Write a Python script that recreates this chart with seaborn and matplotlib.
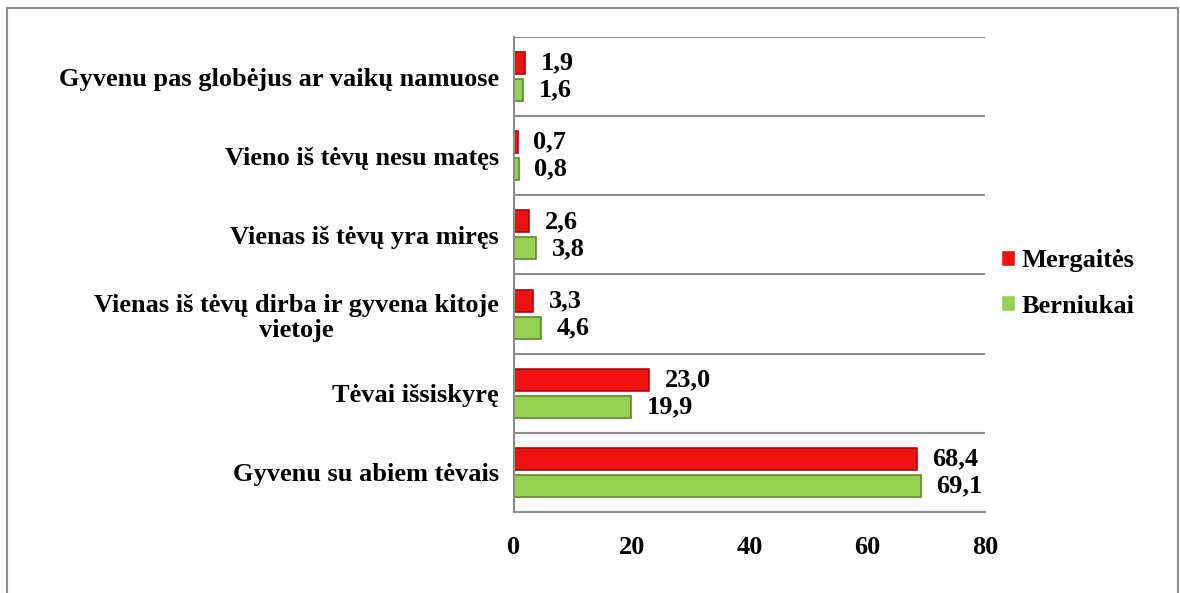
"""
Horizontal bar chart: family situation of girls and boys (%)
"""

import numpy as np
import pandas as pd
import matplotlib
matplotlib.use("Agg")
import matplotlib.pyplot as plt
from matplotlib.patches import Rectangle
import seaborn as sns

# Data (top to bottom as shown on the chart)
categories = [
    "Gyvenu pas globėjus ar vaikų namuose",
    "Vieno iš tėvų nesu matęs",
    "Vienas iš tėvų yra miręs",
    "Vienas iš tėvų dirba ir gyvena kitoje\nvietoje",
    "Tėvai išsiskyrę",
    "Gyvenu su abiem tėvais",
]
mergaites = [1.9, 0.7, 2.6, 3.3, 23.0, 68.4]
berniukai = [1.6, 0.8, 3.8, 4.6, 19.9, 69.1]
series_names = ["Mergaitės", "Berniukai"]
x_ticks = [0, 20, 40, 60, 80]

RED = "#f01212"
GREEN = "#94d052"
EDGES = {"Mergaitės": "#a80c0c", "Berniukai": "#5f8a2c"}
GRID = "#8c8c8c"
FS = 19

sns.set_style("white")
plt.rcParams['font.family'] = ['Liberation Serif', 'DejaVu Serif']
plt.rcParams['font.weight'] = 'bold'
plt.rcParams['text.color'] = 'black'
plt.rcParams['xtick.labelcolor'] = 'black'
plt.rcParams['ytick.labelcolor'] = 'black'


def build_frame():
    """Long format table for seaborn"""
    df = pd.DataFrame({
        "kategorija": categories * 2,
        "reiksme": mergaites + berniukai,
        "lytis": [series_names[0]] * len(categories) + [series_names[1]] * len(categories),
    })
    return df


def plot_chart(df):
    fig = plt.figure(figsize=(11.8, 5.93), dpi=100)
    ax = fig.add_axes([0.4356, 0.1366, 0.399, 0.801])

    sns.barplot(data=df, y="kategorija", x="reiksme", hue="lytis",
                hue_order=series_names, order=categories,
                palette=[RED, GREEN], saturation=1, width=0.68, gap=0.18,
                orient="h", ax=ax, legend=True)

    # bar edges and value labels
    for container, name in zip(ax.containers, series_names):
        for bar in container:
            bar.set_edgecolor(EDGES[name])
            bar.set_linewidth(1.2)
        vals = mergaites if name == series_names[0] else berniukai
        ax.bar_label(container, labels=[f"{v:.1f}".replace(".", ",") for v in vals],
                     padding=11, fontsize=FS, fontweight='bold', color='black')

    ax.set_xlim(0, 80)
    ax.set_ylim(5.5, -0.5)
    ax.set_xticks(x_ticks)
    ax.set_xlabel("")
    ax.set_ylabel("")

    # category separators as gridlines
    ax.set_yticks(np.arange(-0.5, len(categories)), minor=True)
    ax.grid(which='minor', axis='y', color=GRID, linewidth=1.5)
    ax.grid(which='major', axis='x', visible=False)
    ax.tick_params(axis='y', which='major', length=0, pad=11, labelsize=FS)
    ax.tick_params(axis='y', which='minor', length=7, width=1.5, color=GRID, direction='out')
    ax.tick_params(axis='x', length=7, width=1.5, color=GRID, direction='out',
                   labelsize=FS, pad=10)
    for lbl in ax.get_yticklabels():
        lbl.set_multialignment('center')
        lbl.set_linespacing(1.15)
        lbl.set_fontweight('bold')
    for lbl in ax.get_xticklabels():
        lbl.set_fontweight('bold')

    for side in ['top', 'right']:
        ax.spines[side].set_visible(False)
    for side in ['left', 'bottom']:
        ax.spines[side].set_color(GRID)
        ax.spines[side].set_linewidth(1.5)

    # legend on the right
    handles, labels = ax.get_legend_handles_labels()
    ax.get_legend().remove()
    fig.legend(handles, labels, loc='center left', bbox_to_anchor=(0.828, 0.522),
               frameon=False, handlelength=0.55, handleheight=0.55, handletextpad=0.25,
               labelspacing=0.85, prop={'size': FS, 'weight': 'bold'})

    # outer chart border
    fig.add_artist(Rectangle((7 / 1180, -0.2), 1171 / 1180, 1.2 - 8 / 593,
                             transform=fig.transFigure, fill=False,
                             edgecolor=GRID, linewidth=1.5))

    fig.savefig("out.png", dpi=100)


def main():
    df = build_frame()
    plot_chart(df)


if __name__ == "__main__":
    main()
